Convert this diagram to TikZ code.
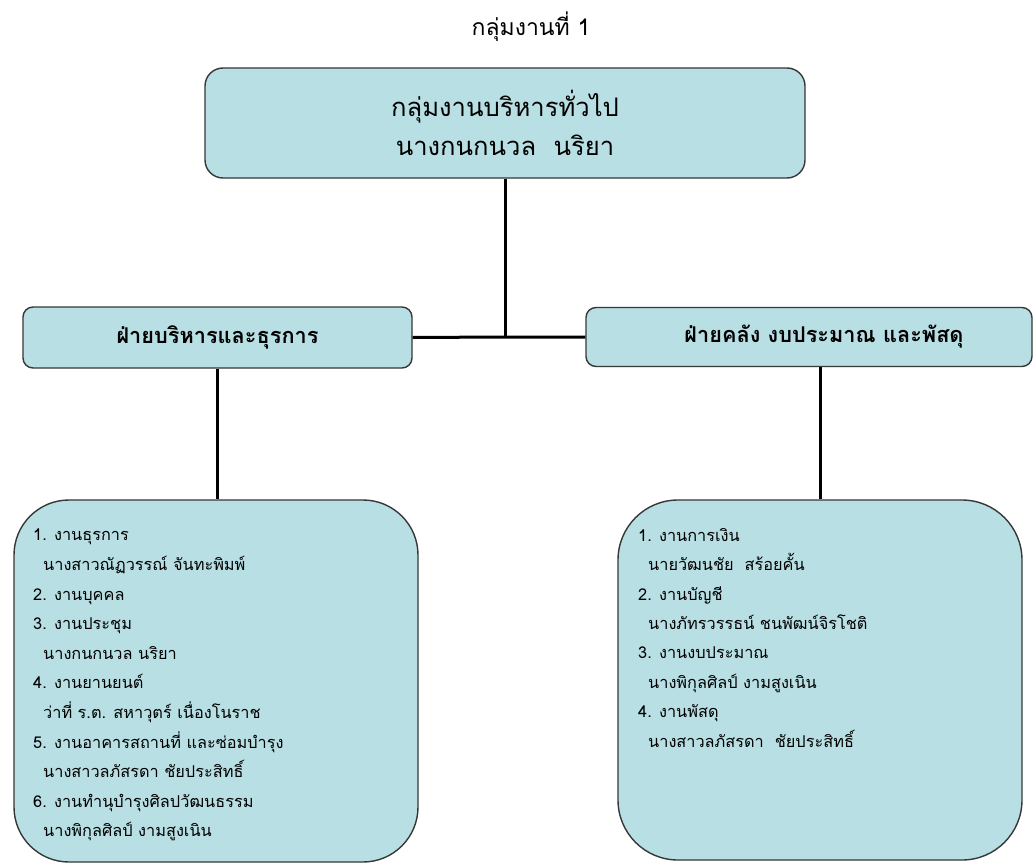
\documentclass[tikz,border=0pt]{standalone}
\usepackage{fontspec}
\newfontfamily\thaifont[Script=Thai]{Loma}
\definecolor{boxfill}{RGB}{184,223,227}
\definecolor{boxline}{RGB}{55,55,55}
\begin{document}
\begin{tikzpicture}[x=1pt,y=-1pt,
  box/.style={draw=boxline, line width=1.4pt, fill=boxfill, inner sep=0pt},
  conn/.style={draw=black, line width=3pt},
  listtext/.style={anchor=north west, align=left, inner sep=0pt, font=\thaifont\fontsize{16.3}{29.6}\selectfont}]
\useasboundingbox (0,0) rectangle (1034,867);
\fill[white] (0,0) rectangle (1034,867);

\node[font=\thaifont\fontsize{23}{27}\selectfont] (title) at (531,27) {กลุ่มงานที่\ 1};

\node[box, rounded corners=18pt, minimum width=600pt, minimum height=110pt, align=center,
  font=\thaifont\fontsize{25.6}{39}\selectfont] (top) at (505,123)
  {กลุ่มงานบริหารทั่วไป\\นางกนกนวล\ \ นริยา};

\node[box, rounded corners=10pt, minimum width=389pt, minimum height=61pt,
  font=\thaifont\bfseries\fontsize{21.7}{26}\selectfont] (lmid) at (217.5,337.5) {ฝ่ายบริหารและธุรการ};
\node[box, rounded corners=10pt, minimum width=446pt, minimum height=59pt,
  font=\thaifont\bfseries\fontsize{21.7}{26}\selectfont] (rmid) at (809,337) {\hspace*{30pt}ฝ่ายคลัง งบประมาณ และพัสดุ};

\node[box, rounded corners=55pt, minimum width=404pt, minimum height=362pt] (lbox) at (216,681) {};
\node[box, rounded corners=60pt, minimum width=404pt, minimum height=360pt] (rbox) at (820,680) {};

\node[listtext] (ltext) at (33,529) {1. งานธุรการ\\
\hspace*{10pt}นางสาวณัฏวรรณ์ จันทะพิมพ์\\
2. งานบุคคล\\
3. งานประชุม\\
\hspace*{10pt}นางกนกนวล นริยา\\
4. งานยานยนต์\\
\hspace*{10pt}ว่าที่ ร.ต. สหาวุตร์ เนื่องโนราช\\
5. งานอาคารสถานที่ และซ่อมบำรุง\\
\hspace*{10pt}นางสาวลภัสรดา ชัยประสิทธิ์\\
6. งานทำนุบำรุงศิลปวัฒนธรรม\\
\hspace*{10pt}นางพิกุลศิลป์ งามสูงเนิน};

\node[listtext, font=\thaifont\fontsize{16.3}{29.4}\selectfont] (rtext) at (638,528) {1. งานการเงิน\\
\hspace*{10pt}นายวัฒนชัย\ \ สร้อยคั้น\\
2. งานบัญชี\\
\hspace*{10pt}นางภัทรวรรธน์ ชนพัฒน์จิรโชติ\\
3. งานงบประมาณ\\
\hspace*{10pt}นางพิกุลศิลป์ งามสูงเนิน\\
4. งานพัสดุ\\
\hspace*{10pt}นางสาวลภัสรดา\ \ ชัยประสิทธิ์};

\coordinate (J) at (505,337);
\draw[conn] (top.south) -- (J);
\draw[conn] (lmid.east) -- (J) -- (rmid.west);
\draw[conn] (lmid.south) -- (lmid.south |- lbox.north);
\draw[conn] (rbox.north) -- (rbox.north |- rmid.south);
\end{tikzpicture}
\end{document}
